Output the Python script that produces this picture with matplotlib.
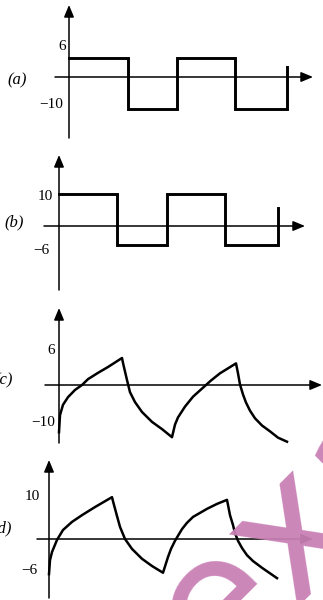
import numpy as np
import matplotlib
matplotlib.use('Agg')
import matplotlib.pyplot as plt

plt.rcParams['font.family'] = ['Liberation Serif', 'DejaVu Serif']

# (a) square wave: switching instants and levels
t_a = [0, 5.9, 10.8, 16.6, 21.8]
lev_a = [6, -10, 6, -10]
end_a = 3.0
# (b) square wave
t_b = [0, 5.8, 10.8, 16.6, 21.9]
lev_b = [10, -6, 10, -6]
end_b = 5.6

# (c) exponential response
t_c = [0, 0.1, 0.4, 0.9, 1.6, 2.3, 2.9, 3.9, 4.9, 6.3,
       6.4, 6.8, 7.1, 7.6, 8.3, 9.3, 10.3, 11.3,
       11.6, 11.9, 12.6, 13.4, 14.4, 15.2, 16.1, 16.9, 17.7,
       17.9, 18.1, 18.4, 18.7, 19.1, 19.6, 20.3, 21.1, 21.9, 22.8]
v_c = [-10.5, -6.7, -4.4, -2.7, -1.1, 0.0, 1.3, 2.7, 4.0, 6.0,
       4.9, 1.1, -1.6, -3.8, -6.0, -8.2, -9.8, -11.6,
       -8.8, -7.2, -4.8, -2.6, -0.6, 1.0, 2.6, 3.7, 4.8,
       2.6, 0.1, -2.1, -3.9, -5.7, -7.4, -9.0, -10.3, -11.7, -12.6]
# (d)
t_d = [0, 0.1, 0.3, 0.8, 1.4, 2.3, 3.3, 4.6, 6.3,
       6.4, 6.8, 7.1, 7.6, 8.3, 9.3, 10.3, 11.4,
       11.9, 12.2, 12.6, 13.3, 13.8, 14.4, 15.1, 15.8, 16.8, 17.8,
       18.1, 18.4, 18.6, 18.9, 19.3, 19.8, 20.4, 21.3, 22.8]
v_d = [-7.8, -4.7, -2.9, -0.2, 2.0, 3.8, 5.3, 7.1, 9.3,
       8.4, 5.1, 2.7, 0.0, -2.2, -4.4, -6.0, -7.5,
       -4.0, -2.2, -0.4, 2.2, 3.6, 4.9, 5.8, 6.7, 7.8, 8.7,
       5.3, 3.1, 1.3, -0.4, -2.0, -3.6, -4.9, -6.4, -8.7]

tick_a = [(6, '6'), (-10, '\u221210')]
tick_b = [(10, '10'), (-6, '\u22126')]
tick_c = [(6, '6'), (-10, '\u221210')]
tick_d = [(10, '10'), (-6, '\u22126')]

W, H = 323, 600
fig = plt.figure(figsize=(W / 100, H / 100), dpi=100)


def make_ax(left, right, top, bottom, x0, y0, px_t, px_v):
    # box in pixels, origin in pixels, scale in px per unit
    ax = fig.add_axes([left / W, 1 - bottom / H, (right - left) / W, (bottom - top) / H])
    ax.set_xlim((left - x0) / px_t, (right - x0) / px_t)
    ax.set_ylim((y0 - bottom) / px_v, (y0 - top) / px_v)
    ax.set_axis_off()
    xmin, xmax = ax.get_xlim()
    ymin, ymax = ax.get_ylim()
    ap = dict(arrowstyle='-|>,head_length=0.6,head_width=0.25', lw=1.1,
              color='k', mutation_scale=12, shrinkA=0, shrinkB=0)
    ax.annotate('', xy=(xmax, 0), xytext=(xmin, 0), arrowprops=ap, annotation_clip=False)
    ax.annotate('', xy=(0, ymax), xytext=(0, ymin), arrowprops=ap, annotation_clip=False)
    return ax


def square(ax, t, lev, end):
    xs = np.repeat(t, 2)[1:]
    ys = np.repeat(lev + [end], 2)[:-1]
    ax.plot(xs, ys, color='k', lw=2.1, solid_joinstyle='miter', clip_on=False)


def labels(ax, ticks, offs):
    for (v, s), (dx, dy) in zip(ticks, offs):
        ax.annotate(s, xy=(0, v), xytext=(dx, dy), textcoords='offset pixels',
                    ha='right', va='center', fontsize=11, annotation_clip=False)


ax_a = make_ax(55, 313, 5, 138, 69, 77, 10, 3.2)
square(ax_a, t_a, lev_a, end_a)
labels(ax_a, tick_a, [(-3, 11), (-6, 5)])

ax_b = make_ax(44, 305, 155, 290, 59, 226, 10, 3.2)
square(ax_b, t_b, lev_b, end_b)
labels(ax_b, tick_b, [(-6, -2), (-9, -5)])

ax_c = make_ax(45, 322, 308, 443, 59, 385, 10, 4.5)
ax_c.plot(t_c, v_c, color='k', lw=1.8, clip_on=False, solid_joinstyle='round')
labels(ax_c, tick_c, [(-4, 8), (-4, 8)])

ax_d = make_ax(37, 313, 460, 598, 49, 539, 10, 4.5)
ax_d.plot(t_d, v_d, color='k', lw=1.8, clip_on=False, solid_joinstyle='round')
labels(ax_d, tick_d, [(-9, -3), (-11, -4)])

fig.text(17 / W, 1 - 80 / H, '(a)', fontsize=12, fontstyle='italic', ha='center', va='center')
fig.text(14 / W, 1 - 222 / H, '(b)', fontsize=12, fontstyle='italic', ha='center', va='center')
fig.text(4 / W, 1 - 380 / H, '(c)', fontsize=12, fontstyle='italic', ha='center', va='center')
fig.text(2 / W, 1 - 528 / H, '(d)', fontsize=12, fontstyle='italic', ha='center', va='center')

# watermark
fig.text(215 / W, 1 - 680 / H, 'example', fontsize=130, color='#c980b5',
         family='DejaVu Sans', rotation=45, rotation_mode='anchor',
         ha='left', va='baseline', alpha=0.95)

fig.savefig('out.png', dpi=100)
